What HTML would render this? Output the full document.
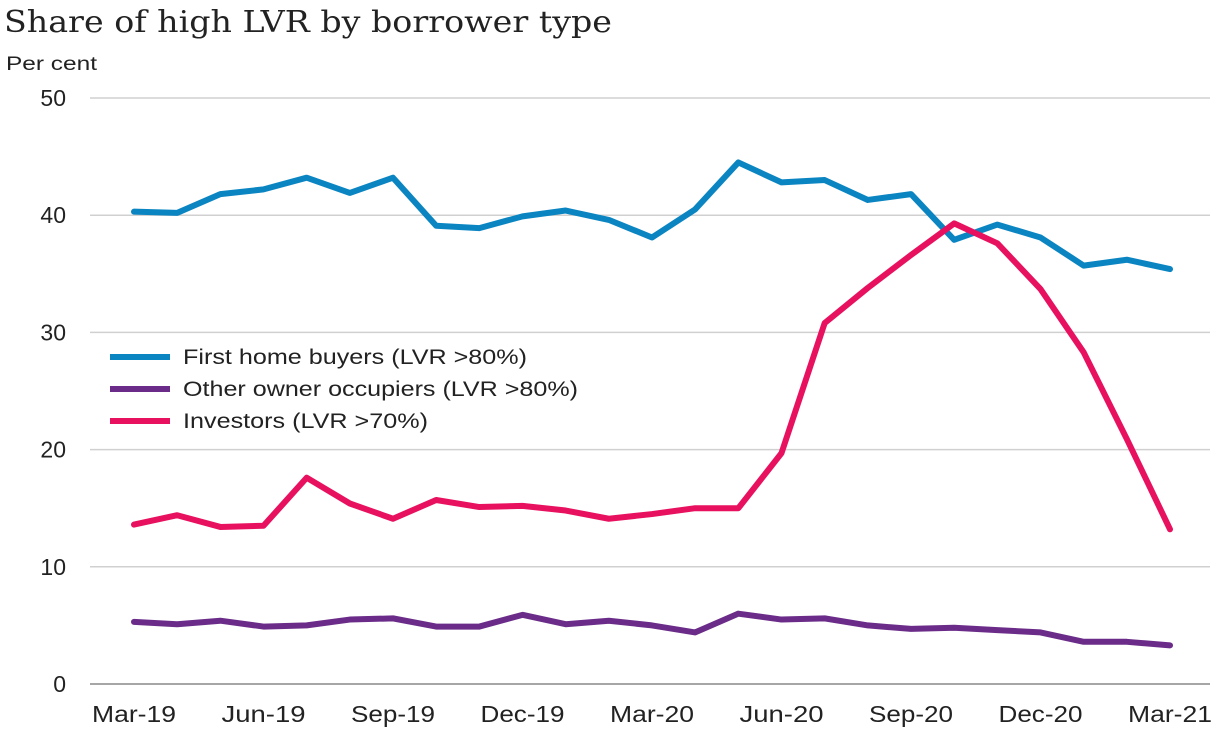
<!DOCTYPE html>
<html><head><meta charset="utf-8"><style>
body{margin:0;background:#fff;}
svg{display:block;font-family:"Liberation Sans",sans-serif;}
</style></head><body>
<svg id="chart" width="1220" height="729">
<text x="4" y="32" font-family="DejaVu Serif,serif" font-size="30" textLength="608" lengthAdjust="spacingAndGlyphs" fill="#222">Share of high LVR by borrower type</text>
<text x="6" y="70" font-size="19" textLength="91" lengthAdjust="spacingAndGlyphs" fill="#222">Per cent</text>
<g id="grid"></g><g id="series"></g><g id="legend"></g>
</svg>
<script>
const categories=["Mar-19","Apr-19","May-19","Jun-19","Jul-19","Aug-19","Sep-19","Oct-19","Nov-19","Dec-19","Jan-20","Feb-20","Mar-20","Apr-20","May-20","Jun-20","Jul-20","Aug-20","Sep-20","Oct-20","Nov-20","Dec-20","Jan-21","Feb-21","Mar-21"];
const firstHome=[40.3,40.2,41.8,42.2,43.2,41.9,43.2,39.1,38.9,39.9,40.4,39.6,38.1,40.5,44.5,42.8,43.0,41.3,41.8,37.9,39.2,38.1,35.7,36.2,35.4];
const otherOwner=[5.3,5.1,5.4,4.9,5.0,5.5,5.6,4.9,4.9,5.9,5.1,5.4,5.0,4.4,6.0,5.5,5.6,5.0,4.7,4.8,4.6,4.4,3.6,3.6,3.3];
const investors=[13.6,14.4,13.4,13.5,17.6,15.4,14.1,15.7,15.1,15.2,14.8,14.1,14.5,15.0,15.0,19.7,30.8,33.8,36.6,39.3,37.6,33.7,28.3,20.9,13.2];
const yTicks=[0,10,20,30,40,50];
const xLabels=["Mar-19","Jun-19","Sep-19","Dec-19","Mar-20","Jun-20","Sep-20","Dec-20","Mar-21"];
const seriesNames=["First home buyers (LVR >80%)","Other owner occupiers (LVR >80%)","Investors (LVR >70%)"];
const legendWidths=[344,395,245];
const NS="http://www.w3.org/2000/svg";
const x0=134,x1=1170,y0=684,y50=98;
const xs=i=>x0+(x1-x0)*i/(categories.length-1);
const ys=v=>y0-(y0-y50)*v/50;
function mk(t,a,p){const e=document.createElementNS(NS,t);for(const k in a)e.setAttribute(k,a[k]);p.appendChild(e);return e;}
const grid=document.getElementById('grid');
yTicks.forEach(v=>{
 const l=mk('line',{x1:90,x2:1210,y1:ys(v),y2:ys(v),stroke:v===0?'#888':'#d0d0d0','stroke-width':1.5},grid);
 
 
 const t=mk('text',{x:66,y:ys(v)+8,'text-anchor':'end','font-size':23,fill:'#222'},grid);t.textContent=v;
 
 
});
xLabels.forEach(lb=>{
 const i=categories.indexOf(lb);
 const t=mk('text',{x:xs(i),y:722,'text-anchor':'middle','font-size':23,textLength:84,lengthAdjust:'spacingAndGlyphs',fill:'#222'},grid);t.textContent=lb;
 
 
});
const colors=['#0a85c2','#6a2c88','#e8115f'];
const data=[firstHome,otherOwner,investors];
const sg=document.getElementById('series');
data.forEach((d,k)=>{
 const p=mk('polyline',{points:d.map((v,i)=>xs(i)+','+ys(v)).join(' '),fill:'none',stroke:colors[k],'stroke-width':6,'stroke-linejoin':'round','stroke-linecap':'round'},sg);
 
 
});
const lg=document.getElementById('legend');
seriesNames.forEach((n,k)=>{
 const y=357+32*k;
 const l=mk('line',{x1:110,x2:170,y1:y,y2:y,stroke:colors[k],'stroke-width':6},lg);
 
 
 const t=mk('text',{x:183,y:y+7,'font-size':21,textLength:legendWidths[k],lengthAdjust:'spacingAndGlyphs',fill:'#222'},lg);t.textContent=n;
 
 
});
</script>
</body></html>
